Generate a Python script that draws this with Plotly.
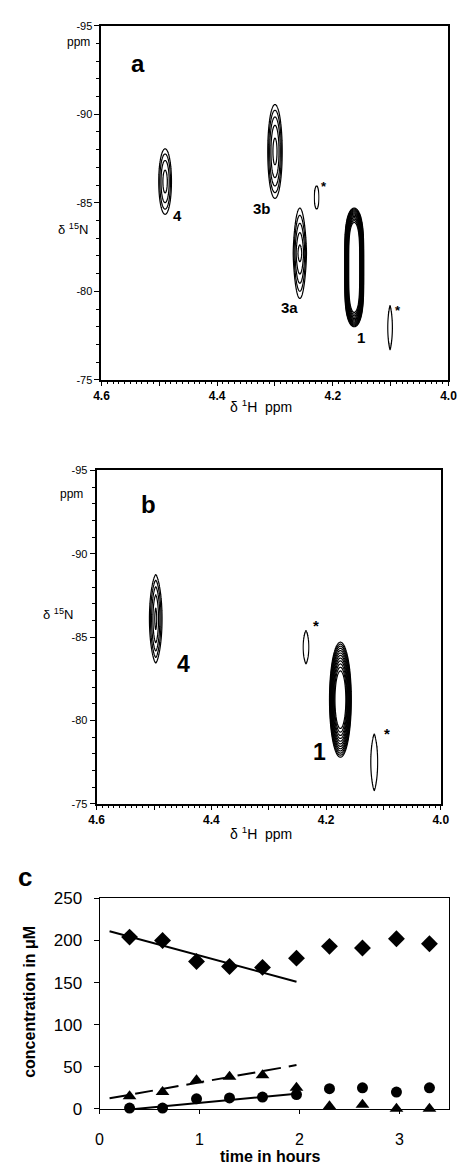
import numpy as np
import plotly.graph_objects as go

# ---------------- data ----------------
# Panel a: 2D 1H-15N peaks (centre, half-widths of outer contour, contour count, inner level, shape exponents)
a_h = [4.490, 4.300, 4.257, 4.163, 4.228, 4.101]
a_n = [-86.2, -87.9, -82.15, -81.35, -85.3, -77.95]
a_wh = [0.011, 0.0125, 0.0115, 0.0165, 0.004, 0.004]
a_wn = [1.85, 2.65, 2.55, 3.35, 0.65, 1.25]
a_levels = [4, 5, 5, 13, 1, 1]
a_inner = [0.12, 0.08, 0.08, 0.33, 1.0, 1.0]
a_p = [2, 2, 2, 2, 2, 1.2]
a_q = [2, 2, 1.5, 4, 2, 2]
a_labels = ["4", "3b", "3a", "1", "*", "*"]
a_lab_h = [4.468, 4.322, 4.275, 4.152, 4.215, 4.088]
a_lab_n = [-84.3, -84.7, -79.1, -77.4, -85.9, -78.9]

# Panel b
b_h = [4.497, 4.235, 4.175, 4.116]
b_n = [-86.1, -84.4, -81.25, -77.5]
b_wh = [0.011, 0.005, 0.019, 0.006]
b_wn = [2.65, 1.0, 3.45, 1.7]
b_levels = [5, 1, 12, 1]
b_inner = [0.06, 1.0, 0.25, 1.0]
b_p = [1.5, 1.3, 2, 1.3]
b_q = [2, 2, 2, 2]
b_labels = ["4", "1", "*", "*"]
b_lab_h = [4.449, 4.212, 4.218, 4.094]
b_lab_n = [-83.4, -78.1, -85.7, -79.2]

# NMR axis ticks
n_tickvals = [-95, -90, -85, -80, -75]
n_ticktext = ["-95", "-90", "-85", "-80", "-75"]

# Panel c: time course
time_h = [0.30, 0.63, 0.97, 1.30, 1.63, 1.97, 2.30, 2.63, 2.97, 3.30]
diamond_conc = [204, 200, 175, 169, 168, 179, 193, 191, 202, 196]
triangle_conc = [15, 20, 34, 38, 40, 25, 3, 5, 0, 0]
circle_conc = [1, 1, 12, 13, 14, 17, 24, 25, 20, 25]
trend_t = [0.10, 1.97]
diamond_trend = [211, 151]
triangle_trend = [12.5, 52]
circle_trend = [-3, 18]

# ---------------- helpers ----------------
W, H = 470, 1172
def fx(p):
    return p / W
def fy(p):
    return 1 - p / H

FONT = "Liberation Sans, Arial, sans-serif"

fig = go.Figure()

def add_peaks(hs, ns, whs, wns, levels, inner, ps, qs, xa, ya):
    for h, n, wh, wn, lv, inn, p, q in zip(hs, ns, whs, wns, levels, inner, ps, qs):
        gx = np.linspace(h - 1.3 * wh, h + 1.3 * wh, 90)
        gy = np.linspace(n - 1.3 * wn, n + 1.3 * wn, 260)
        X, Y = np.meshgrid(gx, gy)
        Z = np.abs((X - h) / wh) ** p + np.abs((Y - n) / wn) ** q
        if lv > 1:
            size = (1.0 - inn) / (lv - 1)
            start = inn
        else:
            size = 1.0
            start = 1.0
        fig.add_trace(go.Contour(
            x=gx, y=gy, z=Z, xaxis=xa, yaxis=ya,
            contours=dict(coloring="none", start=start, end=1.0 + 1e-6, size=size, showlines=True),
            line=dict(color="black", width=1.2, smoothing=1),
            showscale=False, hoverinfo="skip", showlegend=False,
        ))

add_peaks(a_h, a_n, a_wh, a_wn, a_levels, a_inner, a_p, a_q, "x", "y")
add_peaks(b_h, b_n, b_wh, b_wn, b_levels, b_inner, b_p, b_q, "x2", "y2")

# Panel c traces
fig.add_trace(go.Scatter(x=trend_t, y=diamond_trend, mode="lines", line=dict(color="black", width=2),
                         xaxis="x3", yaxis="y3", showlegend=False))
fig.add_trace(go.Scatter(x=trend_t, y=triangle_trend, mode="lines", line=dict(color="black", width=2, dash="18px,8px"),
                         xaxis="x3", yaxis="y3", showlegend=False))
fig.add_trace(go.Scatter(x=trend_t, y=circle_trend, mode="lines", line=dict(color="black", width=2),
                         xaxis="x3", yaxis="y3", showlegend=False))
fig.add_trace(go.Scatter(x=time_h, y=diamond_conc, mode="markers",
                         marker=dict(symbol="diamond", size=13, color="black"),
                         xaxis="x3", yaxis="y3", showlegend=False, cliponaxis=False))
fig.add_trace(go.Scatter(x=time_h, y=circle_conc, mode="markers",
                         marker=dict(symbol="circle", size=11, color="black"),
                         xaxis="x3", yaxis="y3", showlegend=False, cliponaxis=False))
fig.add_trace(go.Scatter(x=time_h, y=triangle_conc, mode="markers",
                         marker=dict(symbol="triangle-up", size=12, color="black"),
                         xaxis="x3", yaxis="y3", showlegend=False, cliponaxis=False))

# ---------------- axes ----------------
def nmr_x(dom):
    return dict(domain=dom, range=[4.6, 4.0], tickmode="linear", tick0=4.0, dtick=0.1, ticklabelstep=2,
                tickformat=".1f",
                ticks="outside", ticklen=4, tickwidth=1, tickcolor="black",
                minor=dict(tickmode="linear", tick0=4.0, dtick=0.01, ticks="outside", ticklen=2,
                           tickcolor="black", tickwidth=1),
                showline=True, linecolor="black", linewidth=2, mirror=True, showgrid=False, zeroline=False,
                tickfont=dict(family=FONT, size=12, color="black", weight="bold"), ticklabelstandoff=0)

def nmr_y(dom):
    return dict(domain=dom, range=[-75, -95], tickmode="array", tickvals=n_tickvals, ticktext=n_ticktext,
                ticks="outside", ticklen=5, tickwidth=1, tickcolor="black",
                minor=dict(tickmode="linear", tick0=-95, dtick=1, ticks="outside", ticklen=3,
                           tickcolor="black", tickwidth=1),
                showline=True, linecolor="black", linewidth=2, mirror=True, showgrid=False, zeroline=False,
                tickfont=dict(family=FONT, size=11, color="black"), ticklabelstandoff=0)

fig.update_layout(
    width=W, height=H, margin=dict(l=0, r=0, t=0, b=0),
    paper_bgcolor="white", plot_bgcolor="white",
    xaxis=dict(nmr_x([fx(97), fx(457)]), anchor="y"),
    yaxis=dict(nmr_y([fy(377), fy(17)]), anchor="x"),
    xaxis2=dict(nmr_x([fx(92), fx(449)]), anchor="y2"),
    yaxis2=dict(nmr_y([fy(808), fy(469)]), anchor="x2"),
    xaxis3=dict(domain=[fx(95), fx(458)], anchor="y3", range=[0, 3.5], tickvals=[0, 1, 2, 3],
                ticks="outside", ticklen=4, tickcolor="black", showline=True, linecolor="black", linewidth=1,
                mirror=True, showgrid=False, zeroline=False, tickfont=dict(family=FONT, size=16, color="black"),
                ticklabelstandoff=12),
    yaxis3=dict(domain=[fy(1118), fy(904)], anchor="x3", range=[0, 250], tickvals=[0, 50, 100, 150, 200, 250],
                ticks="outside", ticklen=5, tickcolor="black", showline=True, linecolor="black", linewidth=1,
                mirror=True, showgrid=False, zeroline=False,
                tickfont=dict(family=FONT, size=17, color="black"), ticklabelstandoff=8),
    showlegend=False,
)

ann = []
def paper_text(x, y, text, size, bold=False, angle=0, xanchor="center"):
    ann.append(dict(x=fx(x), y=fy(y), xref="paper", yref="paper", text=("<b>%s</b>" % text) if bold else text,
                    showarrow=False, font=dict(family=FONT, size=size, color="black"),
                    textangle=angle, xanchor=xanchor, yanchor="middle"))

# panel a titles
paper_text(135, 55, "a", 24, bold=True)
paper_text(73, 34, "ppm", 12)
paper_text(67, 224, "δ <sup>15</sup>N", 13)
paper_text(262, 404, "δ <sup>1</sup>H  ppm", 14)
# panel b titles
paper_text(146, 504, "b", 24, bold=True)
paper_text(66, 493, "ppm", 12)
paper_text(52, 615, "δ <sup>15</sup>N", 13)
paper_text(262, 838, "δ <sup>1</sup>H  ppm", 14)
# panel c titles
paper_text(18, 882, "c", 26, bold=True)
paper_text(22, 1009, "concentration in μM", 16, bold=True, angle=-90)
paper_text(272, 1166, "time in hours", 16, bold=True)

for t, h, n in zip(a_labels, a_lab_h, a_lab_n):
    ann.append(dict(x=h, y=n, xref="x", yref="y", text="<b>%s</b>" % t, showarrow=False,
                    font=dict(family=FONT, size=15 if t != "*" else 13, color="black")))
for t, h, n in zip(b_labels, b_lab_h, b_lab_n):
    ann.append(dict(x=h, y=n, xref="x2", yref="y2", text="<b>%s</b>" % t, showarrow=False,
                    font=dict(family=FONT, size=23 if t != "*" else 15, color="black")))

fig.update_layout(annotations=ann)
fig.write_html("out.html")
